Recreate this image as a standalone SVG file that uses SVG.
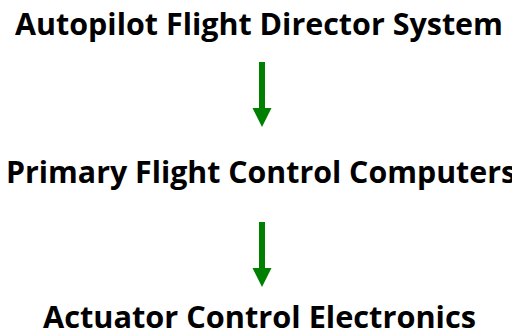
<svg xmlns="http://www.w3.org/2000/svg" width="512" height="334" viewBox="0 0 512 334">
<style>
.t{font-family:"Open Sans","Liberation Sans",sans-serif;font-weight:bold;font-size:30.5px;fill:#000}
.a{fill:#008000}
</style>
<rect width="512" height="334" fill="#fff"/>
<g id="node-afds"><text class="t" x="15" y="35" textLength="488" lengthAdjust="spacingAndGlyphs">Autopilot Flight Director System</text></g>
<g id="node-pfcc"><text class="t" x="6" y="183" textLength="510" lengthAdjust="spacingAndGlyphs">Primary Flight Control Computers</text></g>
<g id="node-ace"><text class="t" x="43" y="328" textLength="433" lengthAdjust="spacingAndGlyphs">Actuator Control Electronics</text></g>
<g id="connectors">
<path class="a" d="M259,62 H265 V108 H271.5 L262,127 L252.5,108 H259 Z"/>
<path class="a" d="M259,222 H265 V268 H271.5 L262,287 L252.5,268 H259 Z"/>
</g>
</svg>
